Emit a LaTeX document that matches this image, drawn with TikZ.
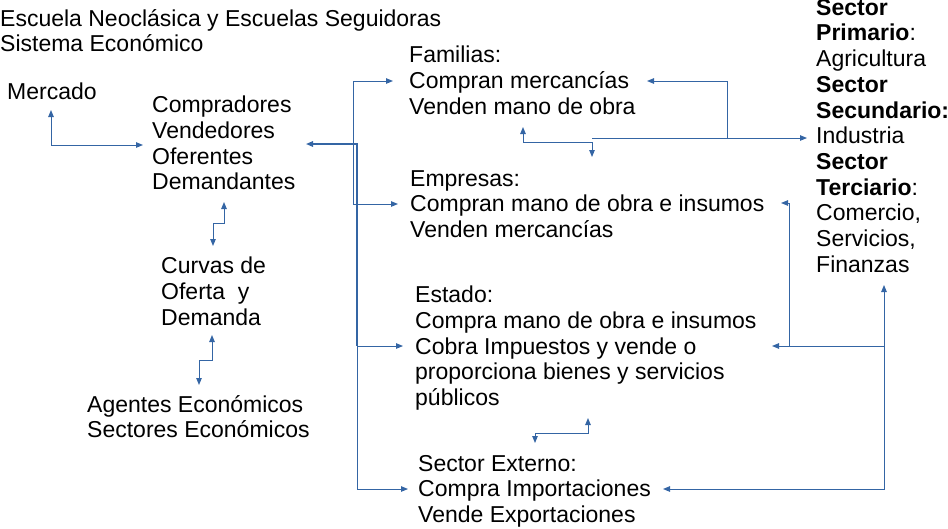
\documentclass[tikz,border=0pt]{standalone}
\usepackage{fontspec}
\setmainfont{Liberation Sans}
\definecolor{LinkBlue}{RGB}{52,101,164}
\usetikzlibrary{arrows.meta}

\begin{document}
\begin{tikzpicture}[
    x=1pt, y=-1pt,
    >={Triangle[length=7pt,width=5.5pt]},
    txt/.style={anchor=north west, inner sep=0pt, align=left, font=\fontsize{23}{25.7}\selectfont},
    link/.style={draw=LinkBlue, line width=1pt}
]
    \useasboundingbox (0,0) rectangle (948,528);
    \node[txt] (titulo) at (0,9) {Escuela Neoclásica y Escuelas Seguidoras\\Sistema Económico};
    \node[txt] (mercado) at (7,83) {Mercado};
    \node[txt] (agentes) at (152,96) {Compradores\\Vendedores\\Oferentes\\Demandantes};
    \node[txt] (curvas) at (161,257) {Curvas de\\Oferta\ \ y\\Demanda};
    \node[txt] (sectores) at (87,395) {Agentes Económicos\\Sectores Económicos};
    \node[txt] (familias) at (409,46) {Familias:\\Compran mercancías\\Venden mano de obra};
    \node[txt] (empresas) at (410,170) {Empresas:\\Compran mano de obra e insumos\\Venden mercancías};
    \node[txt] (estado) at (415,286) {Estado:\\Compra mano de obra e insumos\\Cobra Impuestos y vende o\\proporciona bienes y servicios\\públicos};
    \node[txt] (externo) at (418,455) {Sector Externo:\\Compra Importaciones\\Vende Exportaciones};
    \node[txt] (produccion) at (816,-1) {\textbf{Sector}\\\textbf{Primario}:\\Agricultura\\\textbf{Sector}\\\textbf{Secundario:}\\Industria\\\textbf{Sector}\\\textbf{Terciario}:\\Comercio,\\Servicios,\\Finanzas};
    % puntos de los conectores
    \coordinate (mercS) at (51,110);
    \coordinate (agW) at (143,145);
    \coordinate (agS) at (224,202);
    \coordinate (curN) at (213,246);
    \coordinate (curS) at (212,335);
    \coordinate (secN) at (199,385);
    \coordinate (agE) at (306,144);
    \coordinate (busJ) at (357,346);
    \coordinate (famW) at (393,81);
    \coordinate (empW) at (398,204);
    \coordinate (estW) at (403,346);
    \coordinate (extW) at (408,489);
    \coordinate (famE) at (647,81);
    \coordinate (famS) at (523,127);
    \coordinate (famJ) at (592,138);
    \coordinate (empN) at (592,157);
    \coordinate (indJ) at (727,138);
    \coordinate (indW) at (807,138);
    \coordinate (empE) at (781,203);
    \coordinate (estJ) at (789,346);
    \coordinate (estE) at (772,346);
    \coordinate (terS) at (884,285);
    \coordinate (terJ) at (884,346);
    \coordinate (estS) at (588,418);
    \coordinate (extN) at (535,443);
    \coordinate (extE) at (663,489);
    % mercado y curvas
    \draw[link, <->] (mercS) |- (agW);
    \draw[link, <->] (agS) -- ++(0,21) -| (curN);
    \draw[link, <->] (curS) -- ++(0,25) -| (secN);
    % agentes
    \draw[link, <->] (famW) -- ++(-40,0) |- (empW);
    \draw[link, <-, line width=1.5pt] (agE) -- ++(51,0) -- (busJ);
    \draw[link, ->] (busJ) -- (estW);
    \draw[link, ->] (busJ) |- (extW);
    % sectores
    \draw[link, <->] (famE) -| (indJ) -- (indW);
    \draw[link, <->] (famS) -- ++(0,15) -| (empN);
    \draw[link] (famJ) -- (indJ);
    \draw[link, <->] (empE) -| (estJ) -- (estE);
    \draw[link] (estJ) -- (terJ);
    \draw[link, <->] (terS) |- (extE);
    \draw[link, <->] (estS) -- ++(0,15) -| (extN);
\end{tikzpicture}
\end{document}
